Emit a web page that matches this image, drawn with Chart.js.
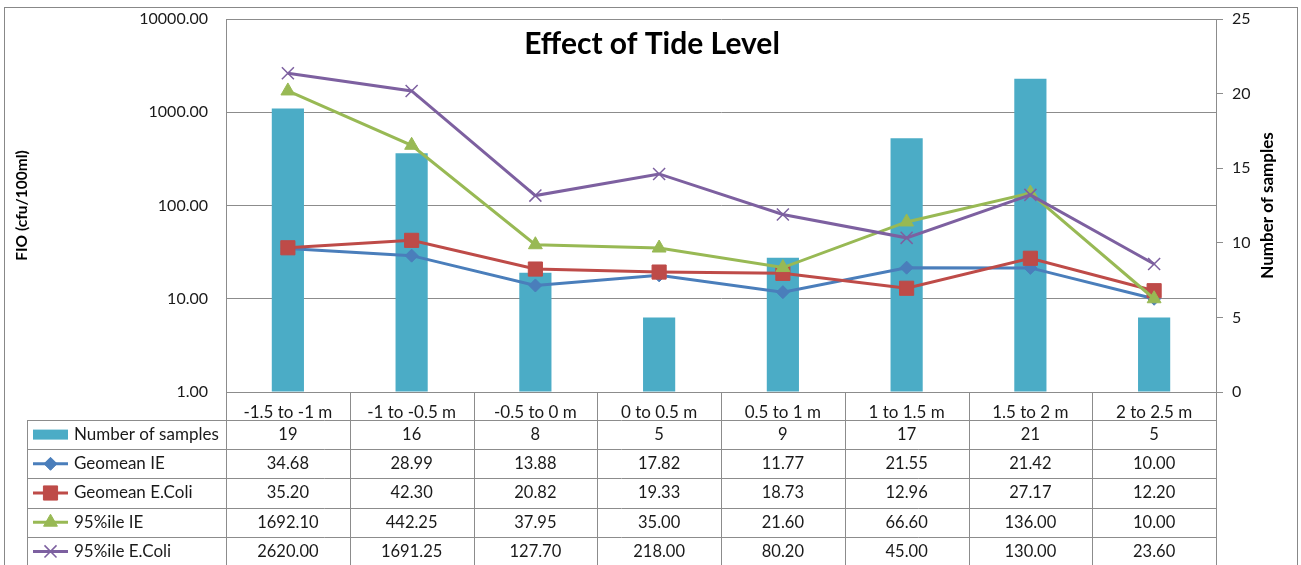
<!DOCTYPE html>
<html>
<head>
<meta charset="utf-8">
<script src="https://cdn.jsdelivr.net/npm/chart.js@4/dist/chart.umd.min.js"></script>
<style>
  html, body { margin: 0; padding: 0; background: #fff; }
  #wrap { width: 1301px; height: 565px; }
</style>
</head>
<body>
<div id="wrap"><canvas id="chart" width="1301" height="565"></canvas></div>
<script>
// data
const categories = ['-1.5 to -1 m', '-1 to -0.5 m', '-0.5 to 0 m', '0 to 0.5 m', '0.5 to 1 m', '1 to 1.5 m', '1.5 to 2 m', '2 to 2.5 m'];
const samples = [19, 16, 8, 5, 9, 17, 21, 5];
const geomeanIE = [34.68, 28.99, 13.88, 17.82, 11.77, 21.55, 21.42, 10.00];
const geomeanEColi = [35.20, 42.30, 20.82, 19.33, 18.73, 12.96, 27.17, 12.20];
const p95IE = [1692.10, 442.25, 37.95, 35.00, 21.60, 66.60, 136.00, 10.00];
const p95EColi = [2620.00, 1691.25, 127.70, 218.00, 80.20, 45.00, 130.00, 23.60];
const leftTicks = [1, 10, 100, 1000, 10000];

const GRID = '#8c8c8c';
Chart.defaults.font.family = 'Lato';
Chart.defaults.font.size = 16;
Chart.defaults.color = '#1a1a1a';

// frame + titles + data table under the plot
const tablePlugin = {
  id: 'dataTable',
  beforeDraw(chart) {
    const ctx = chart.ctx;
    ctx.save();
    ctx.fillStyle = '#fff';
    ctx.fillRect(0, 0, chart.width, chart.height);
    ctx.strokeStyle = '#888';
    ctx.lineWidth = 1;
    ctx.strokeRect(4.5, 7.5, 1293, 570);
    ctx.restore();
  },
  afterDraw(chart) {
    const ctx = chart.ctx;
    const area = chart.chartArea;
    const n = categories.length;
    const colW = (area.right - area.left) / n;
    const headH = 28;
    const rowH = 29.2;
    const legLeft = 27;
    const top = area.bottom;
    const rowsTop = top + headH;
    const bottom = rowsTop + rowH * chart.data.datasets.length;

    ctx.save();
    ctx.strokeStyle = GRID;
    ctx.lineWidth = 1;
    ctx.beginPath();
    for (let i = 0; i <= n; i++) {
      const x = Math.round(area.left + colW * i) + 0.5;
      ctx.moveTo(x, top);
      ctx.lineTo(x, bottom);
    }
    ctx.moveTo(legLeft + 0.5, rowsTop);
    ctx.lineTo(legLeft + 0.5, bottom);
    for (let r = 0; r <= chart.data.datasets.length; r++) {
      const y = Math.round(rowsTop + rowH * r) + 0.5;
      ctx.moveTo(legLeft, y);
      ctx.lineTo(area.right, y);
    }
    ctx.stroke();

    ctx.fillStyle = '#1a1a1a';
    ctx.textBaseline = 'middle';
    chart.data.datasets.forEach((ds, r) => {
      const cy = rowsTop + rowH * r + rowH / 2;
      // legend key
      if (ds.type === 'bar') {
        ctx.fillStyle = ds.backgroundColor;
        ctx.fillRect(33, cy - 5, 35, 10);
      } else {
        ctx.strokeStyle = ds.borderColor;
        ctx.lineWidth = 3;
        ctx.beginPath();
        ctx.moveTo(33, cy);
        ctx.lineTo(68, cy);
        ctx.stroke();
        ctx.fillStyle = ds.backgroundColor;
        ctx.strokeStyle = ds.borderColor;
        ctx.lineWidth = ds.pointBorderWidth;
        Chart.helpers.drawPoint(ctx, {
          pointStyle: ds.pointStyle, rotation: 0,
          radius: ds.pointRadius, borderWidth: ds.pointBorderWidth
        }, 50.5, cy);
      }
      ctx.fillStyle = '#1a1a1a';
      ctx.font = '17px Lato';
      ctx.textAlign = 'left';
      ctx.fillText(ds.label, 74, cy);
      ctx.font = '16.5px Lato';
      ctx.textAlign = 'center';
      ds.data.forEach((v, i) => {
        const txt = ds.type === 'bar' ? String(v) : v.toFixed(2);
        ctx.fillText(txt, area.left + colW * i + colW / 2, cy);
      });
    });

    // chart title
    ctx.font = 'bold 30px Lato';
    ctx.textAlign = 'center';
    ctx.fillStyle = '#000';
    ctx.fillText('Effect of Tide Level', 652, 44);

    // right axis title, reading bottom to top like the left one
    ctx.translate(1268, (area.top + area.bottom) / 2);
    ctx.rotate(-Math.PI / 2);
    ctx.font = 'bold 17px Lato';
    ctx.fillText('Number of samples', 0, 0);
    ctx.restore();
  }
};

const lineDs = (label, data, color, style, radius, order, bw) => ({
  type: 'line',
  label: label,
  data: data,
  yAxisID: 'y',
  borderColor: color,
  backgroundColor: color,
  borderWidth: 3,
  pointStyle: style,
  pointRadius: radius,
  pointHoverRadius: radius,
  pointBorderWidth: bw,
  pointBackgroundColor: color,
  pointBorderColor: color,
  tension: 0,
  order: order
});

new Chart(document.getElementById('chart'), {
  type: 'bar',
  data: {
    labels: categories,
    datasets: [
      {
        type: 'bar',
        label: 'Number of samples',
        data: samples,
        yAxisID: 'y1',
        backgroundColor: '#4BACC6',
        barPercentage: 0.26,
        categoryPercentage: 1,
        order: 5
      },
      lineDs('Geomean IE', geomeanIE, '#4A7EBB', 'rectRot', 6.5, 4, 1),
      lineDs('Geomean E.Coli', geomeanEColi, '#BE4B48', 'rect', 10, 3, 1),
      lineDs('95%ile IE', p95IE, '#98B954', 'triangle', 8, 2, 1),
      lineDs('95%ile E.Coli', p95EColi, '#7D60A0', 'crossRot', 8.5, 1, 1.5)
    ]
  },
  options: {
    responsive: false,
    animation: false,
    devicePixelRatio: 1,
    layout: { padding: { left: 9, right: 22, top: 19, bottom: 0 } },
    plugins: {
      legend: { display: false },
      tooltip: { enabled: false },
      title: { display: false }
    },
    scales: {
      x: {
        grid: { display: false },
        border: { display: true, color: GRID },
        ticks: { padding: 2, maxRotation: 0, autoSkip: false, font: { size: 17 } },
        afterFit: (s) => { s.height = 173; }
      },
      y: {
        type: 'logarithmic',
        position: 'left',
        min: 1,
        max: 10000,
        afterBuildTicks: (s) => { s.ticks = leftTicks.map(v => ({ value: v, major: true })); },
        ticks: { padding: 0, callback: (v) => Number(v).toFixed(2) },
        grid: { color: GRID, drawTicks: true, tickLength: 18, tickColor: 'rgba(0,0,0,0)' },
        border: { display: true, color: GRID },
        title: { display: true, text: 'FIO (cfu/100ml)', font: { size: 15.5, weight: 'bold' }, color: '#000' },
        afterFit: (s) => { s.width = 217; }
      },
      y1: {
        position: 'right',
        min: 0,
        max: 25,
        ticks: { stepSize: 5, padding: 9 },
        grid: { drawOnChartArea: false, color: GRID, tickLength: 7 },
        border: { display: true, color: GRID },
        afterFit: (s) => { s.width = 63; }
      }
    }
  },
  plugins: [tablePlugin]
});
</script>
</body>
</html>
